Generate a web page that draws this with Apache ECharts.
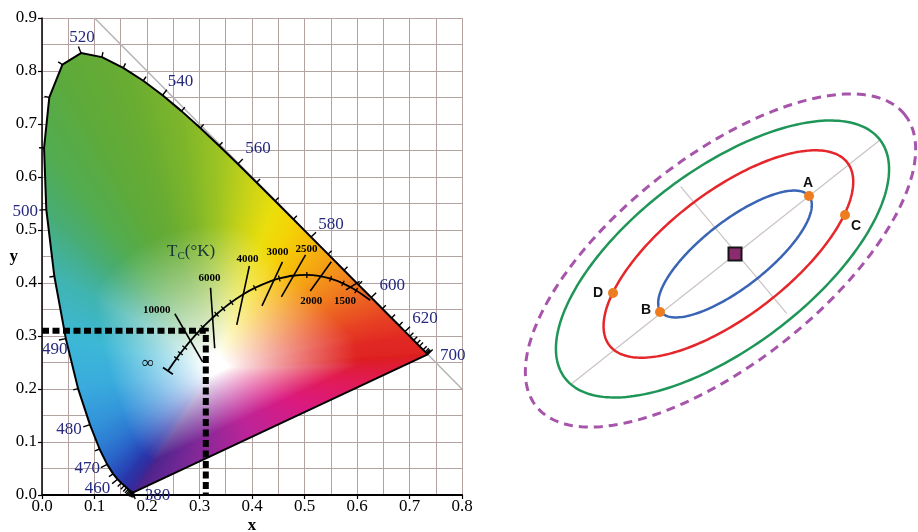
<!DOCTYPE html>
<html>
<head>
<meta charset="utf-8">
<title>CIE 1931 chromaticity diagram and colour-difference ellipses</title>
<script src="https://cdn.jsdelivr.net/npm/echarts@6.0.0/dist/echarts.min.js"></script>
<style>
  html, body { margin: 0; padding: 0; background: #ffffff; }
  #chart { width: 918px; height: 532px; }
</style>
</head>
<body>
<div id="chart"></div>
<script>
// ---------------- CIE 1931 2-degree spectral locus ----------------
const wavelengths = [380, 390, 400, 410, 420, 425, 430, 435, 440, 445, 450, 455, 460, 465, 470, 475, 480, 485, 490, 495,
  500, 505, 510, 515, 520, 525, 530, 535, 540, 545, 550, 555, 560, 565, 570, 575, 580, 585, 590, 595,
  600, 605, 610, 615, 620, 625, 630, 635, 640, 650, 660, 670, 680, 700];
const locusX = [0.1741, 0.1738, 0.1733, 0.1726, 0.1714, 0.1703, 0.1689, 0.1669, 0.1644, 0.1611, 0.1566, 0.1510, 0.1440, 0.1355, 0.1241, 0.1096, 0.0913, 0.0687, 0.0454, 0.0235,
  0.0082, 0.0039, 0.0139, 0.0389, 0.0743, 0.1142, 0.1547, 0.1929, 0.2296, 0.2658, 0.3016, 0.3373, 0.3731, 0.4087, 0.4441, 0.4788, 0.5125, 0.5448, 0.5752, 0.6029,
  0.6270, 0.6482, 0.6658, 0.6801, 0.6915, 0.7006, 0.7079, 0.7140, 0.7190, 0.7260, 0.7300, 0.7320, 0.7334, 0.7347];
const locusY = [0.0050, 0.0049, 0.0048, 0.0048, 0.0051, 0.0058, 0.0069, 0.0086, 0.0109, 0.0138, 0.0177, 0.0227, 0.0297, 0.0399, 0.0578, 0.0868, 0.1327, 0.2007, 0.2950, 0.4127,
  0.5384, 0.6548, 0.7502, 0.8120, 0.8338, 0.8262, 0.8059, 0.7816, 0.7543, 0.7243, 0.6923, 0.6589, 0.6245, 0.5896, 0.5547, 0.5202, 0.4866, 0.4544, 0.4242, 0.3965,
  0.3725, 0.3514, 0.3340, 0.3197, 0.3083, 0.2993, 0.2920, 0.2859, 0.2809, 0.2740, 0.2700, 0.2680, 0.2666, 0.2653];
const labeledWavelengths = [380, 460, 470, 480, 490, 500, 520, 540, 560, 580, 600, 620, 700];

// ---------------- Planckian (black-body) locus ----------------
const planckTemps = [1200, 1400, 1600, 1800, 2000, 2200, 2500, 2800, 3000, 3500, 4000, 4500, 5000, 5500, 6000, 7000, 8000, 10000, 12000, 15000, 20000, 30000, 50000, Infinity];
const planckX = [0.6251, 0.5985, 0.5732, 0.5496, 0.5267, 0.5045, 0.4770, 0.4520, 0.4369, 0.4053, 0.3805, 0.3608, 0.3451, 0.3325, 0.3221, 0.3064, 0.2952, 0.2807, 0.2719, 0.2637, 0.2565, 0.2501, 0.2452, 0.2399];
const planckY = [0.3674, 0.3858, 0.3993, 0.4081, 0.4133, 0.4152, 0.4137, 0.4086, 0.4041, 0.3907, 0.3768, 0.3636, 0.3516, 0.3411, 0.3318, 0.3166, 0.3048, 0.2884, 0.2779, 0.2674, 0.2577, 0.2489, 0.2419, 0.2342];
const planckTicked = [1400, 1600, 1800, 2200, 2800, 3500, 4500, 5000, 5500, 7000, 8000, 12000, 15000, 20000];

// isotemperature lines (two end points each)
const isoLabels = ['10000', '6000', '4000', '3000', '2500', '2000', '1500'];
const isoX1 = [0.253, 0.321, 0.395, 0.458, 0.502, 0.551, 0.605];
const isoY1 = [0.342, 0.391, 0.432, 0.440, 0.453, 0.440, 0.403];
const isoX2 = [0.306, 0.329, 0.371, 0.419, 0.456, 0.511, 0.579];
const isoY2 = [0.251, 0.277, 0.321, 0.357, 0.374, 0.385, 0.387];

// dashed guides to the marked chromaticity point
const guideX = [0, 0.312, 0.312];
const guideY = [0.31, 0.31, 0];

// x + y = 1 line
const diagX = [0.1, 0.8];
const diagY = [0.9, 0.2];

// ---------------- colour-difference ellipses (right panel) ----------------
const ellipseNames = ['inner', 'middle', 'outer', 'limit'];
const ellipseCx = [0, -0.66, -1.25, -1.45];
const ellipseCy = [0, 0, -0.5, -0.65];
const ellipseA = [9.4, 15.0, 19.75, 23.5];
const ellipseB = [3.3, 6.2, 8.9, 10.3];
const ellipseAngle = [38, 37.5, 37, 38.3];

const pointNames = ['A', 'B', 'C', 'D'];
const pointX = [7.4, -7.5, 11.0, -12.2];
const pointY = [5.8, -5.8, 3.9, -3.9];
const centreX = [0];
const centreY = [0];

const axisNames = ['major', 'minor'];
const axisX1 = [-16.5, -5.43];
const axisY1 = [-13.1, 6.73];
const axisX2 = [14.5, 5.17];
const axisY2 = [11.4, -5.93];

// ---------------- styling ----------------
const SERIF = '"Liberation Serif", "DejaVu Serif", serif';
const SANS = '"Liberation Sans", Arial, sans-serif';
const GRID_COLOUR = '#b3a3a0';
const WL_COLOUR = '#26297e';
const WHITE = [0.33, 0.24];

// colour of the diagram's rim, by wavelength
const spectrumStops = [
  [380, 72, 36, 140], [440, 52, 44, 158], [455, 40, 55, 170], [465, 40, 78, 188], [472, 42, 106, 204],
  [478, 48, 138, 216], [484, 56, 168, 222], [490, 60, 184, 214], [495, 64, 180, 176], [500, 72, 172, 115],
  [505, 82, 172, 80], [515, 94, 170, 58], [530, 104, 172, 50], [545, 126, 182, 42], [555, 156, 196, 34],
  [563, 198, 210, 24], [570, 234, 222, 12], [576, 246, 210, 5], [582, 246, 180, 12], [590, 242, 140, 28],
  [600, 236, 95, 34], [610, 230, 62, 35], [625, 225, 40, 35], [700, 220, 30, 30]
];
// colour along the line of purples, from 700 nm (0) to 380 nm (1)
const purpleStops = [[0, 220, 30, 30], [0.2, 226, 26, 84], [0.4, 218, 26, 128], [0.6, 188, 36, 152], [0.8, 128, 40, 152], [1, 72, 36, 140]];

const isoLabelOffset = [[-18, -4], [-1, -10], [-2, -7], [-5, -10], [1, -6], [1, 10], [-1, 11]];
const wlLabelOffset = {
  380: [24, 3], 460: [-20, 9], 470: [-20, 4], 480: [-21, 5], 490: [-11, 11], 500: [-21, 2],
  520: [1, -16], 540: [18, -14], 560: [20, -15], 580: [20, -13], 600: [21, -12], 620: [20, -13], 700: [25, 1]
};
const ellipseStyle = [
  { stroke: '#3a64b4', lineWidth: 2.5 },
  { stroke: '#e5262b', lineWidth: 2.5 },
  { stroke: '#1f9658', lineWidth: 2.5 },
  { stroke: '#a655aa', lineWidth: 3, lineDash: [9, 6] }
];
const pointLabelOffset = [[-1, -13], [-14, -2], [11, 11], [-15, 0]];

function stopColour(stops, v) {
  if (v <= stops[0][0]) return stops[0].slice(1);
  for (let k = 0; k < stops.length - 1; k++) {
    const a = stops[k], b = stops[k + 1];
    if (v <= b[0]) {
      const f = (v - a[0]) / (b[0] - a[0]);
      return [a[1] + (b[1] - a[1]) * f, a[2] + (b[2] - a[2]) * f, a[3] + (b[3] - a[3]) * f];
    }
  }
  return stops[stops.length - 1].slice(1);
}

// closed rim of the gamut: spectral locus then the line of purples
const rim = [];
wavelengths.forEach((wl, i) => rim.push({ x: locusX[i], y: locusY[i], c: stopColour(spectrumStops, wl) }));
(function () {
  const last = rim[rim.length - 1], first = rim[0];
  [0.2, 0.4, 0.6, 0.8, 1].forEach(f => rim.push({
    x: last.x + (first.x - last.x) * f,
    y: last.y + (first.y - last.y) * f,
    c: stopColour(purpleStops, f)
  }));
})();

function chromaColour(x, y) {
  const dx = x - WHITE[0], dy = y - WHITE[1];
  const dist = Math.hypot(dx, dy);
  if (dist < 1e-7) return [255, 255, 255];
  for (let k = 0; k < rim.length - 1; k++) {
    const P = rim[k], Q = rim[k + 1];
    const ex = Q.x - P.x, ey = Q.y - P.y;
    const D = dx * ey - dy * ex;
    if (Math.abs(D) < 1e-14) continue;
    const wx = P.x - WHITE[0], wy = P.y - WHITE[1];
    const s = (wx * ey - ex * wy) / D;
    const u = (dy * wx - dx * wy) / D;
    if (s > 0 && u >= -1e-9 && u <= 1 + 1e-9) {
      const c = [P.c[0] + (Q.c[0] - P.c[0]) * u, P.c[1] + (Q.c[1] - P.c[1]) * u, P.c[2] + (Q.c[2] - P.c[2]) * u];
      const t = Math.max(1 / s, dist / 0.36);
      let f = Math.min(1, Math.max(0, (t - 0.07) / 0.68));
      f = Math.pow(f, 0.85);
      return [255 + (c[0] - 255) * f, 255 + (c[1] - 255) * f, 255 + (c[2] - 255) * f];
    }
  }
  return [255, 255, 255];
}

function renderGamutFill(params, api) {
  const pts = locusX.map((x, i) => api.coord([x, locusY[i]]));
  const o = api.coord([0, 0]);
  const e = api.coord([1, 1]);
  const kx = e[0] - o[0], ky = e[1] - o[1];
  let x0 = Infinity, y0 = Infinity, x1 = -Infinity, y1 = -Infinity;
  pts.forEach(p => { x0 = Math.min(x0, p[0]); y0 = Math.min(y0, p[1]); x1 = Math.max(x1, p[0]); y1 = Math.max(y1, p[1]); });
  x0 = Math.max(0, Math.floor(x0) - 2); y0 = Math.max(0, Math.floor(y0) - 2);
  x1 = Math.ceil(x1) + 2; y1 = Math.ceil(y1) + 2;
  const w = x1 - x0, h = y1 - y0;
  const cv = document.createElement('canvas');
  cv.width = x1; cv.height = y1;
  const ctx = cv.getContext('2d');
  const img = ctx.createImageData(w, h);
  for (let j = 0; j < h; j++) {
    for (let i = 0; i < w; i++) {
      const cx = (x0 + i + 0.5 - o[0]) / kx;
      const cy = (y0 + j + 0.5 - o[1]) / ky;
      const c = chromaColour(cx, cy);
      const k = (j * w + i) * 4;
      img.data[k] = c[0]; img.data[k + 1] = c[1]; img.data[k + 2] = c[2]; img.data[k + 3] = 255;
    }
  }
  ctx.putImageData(img, x0, y0);
  return { type: 'polygon', silent: true, shape: { points: pts }, style: { fill: { image: cv, repeat: 'no-repeat' }, stroke: null } };
}

function outwardTick(api, xs, ys, i, len, centred) {
  const n = xs.length;
  const p = api.coord([xs[i], ys[i]]);
  const ia = Math.max(0, i - 2), ib = Math.min(n - 1, i + 2);
  const a = api.coord([xs[ia], ys[ia]]);
  const b = api.coord([xs[ib], ys[ib]]);
  let tx = b[0] - a[0], ty = b[1] - a[1];
  const L = Math.hypot(tx, ty) || 1; tx /= L; ty /= L;
  let nx = ty, ny = -tx;
  const c = api.coord(WHITE);
  if ((p[0] - c[0]) * nx + (p[1] - c[1]) * ny < 0) { nx = -nx; ny = -ny; }
  const s0 = centred ? -len / 2 : 0, s1 = centred ? len / 2 : len;
  return { x1: p[0] + nx * s0, y1: p[1] + ny * s0, x2: p[0] + nx * s1, y2: p[1] + ny * s1 };
}

function renderEllipse(params, api) {
  const i = params.dataIndex;
  const cx = api.value(0), cy = api.value(1), a = api.value(2), b = api.value(3);
  const ang = api.value(4) * Math.PI / 180;
  const pts = [];
  for (let k = 0; k < 240; k++) {
    const th = k / 240 * Math.PI * 2;
    const u = a * Math.cos(th), v = b * Math.sin(th);
    pts.push(api.coord([cx + u * Math.cos(ang) - v * Math.sin(ang), cy + u * Math.sin(ang) + v * Math.cos(ang)]));
  }
  const st = ellipseStyle[i];
  return { type: 'polygon', shape: { points: pts },
    style: { fill: 'none', stroke: st.stroke, lineWidth: st.lineWidth, lineDash: st.lineDash || null, lineCap: 'butt' } };
}

function segmentRender(colour, width) {
  return function (params, api) {
    const p = api.coord([api.value(0), api.value(1)]);
    const q = api.coord([api.value(2), api.value(3)]);
    return { type: 'line', shape: { x1: p[0], y1: p[1], x2: q[0], y2: q[1] }, style: { stroke: colour, lineWidth: width } };
  };
}

const plainLabel = { textBorderWidth: 0, textShadowBlur: 0, opacity: 1 };
const solid = { opacity: 1 };

const chart = echarts.init(document.getElementById('chart'), null, { renderer: 'canvas', devicePixelRatio: 1 });

const locusLine = locusX.map((x, i) => [x, locusY[i]]);
locusLine.push([locusX[0], locusY[0]]);

const option = {
  animation: false,
  backgroundColor: '#ffffff',
  grid: [
    { left: 42, top: 18, width: 420, height: 477, containLabel: false, outerBoundsMode: 'none' },
    { left: 500, top: 0, width: 418, height: 532, containLabel: false, outerBoundsMode: 'none' }
  ],
  xAxis: [
    {
      type: 'value', gridIndex: 0, min: 0, max: 0.8, interval: 0.1,
      name: 'x', nameLocation: 'middle', nameGap: 22, nameMoveOverlap: false,
      nameTextStyle: { fontFamily: SERIF, fontSize: 17, fontWeight: 'bold', color: '#000' },
      axisLine: { show: true, onZero: false, lineStyle: { color: '#000', width: 2 } },
      axisTick: { show: true, length: 4, lineStyle: { color: '#000', width: 1.2 } },
      axisLabel: { formatter: v => v.toFixed(1), fontFamily: SERIF, fontSize: 17, color: '#000', margin: 3 },
      splitLine: { show: true, lineStyle: { color: GRID_COLOUR, width: 1 } },
      minorTick: { show: false, splitNumber: 2 },
      minorSplitLine: { show: true, lineStyle: { color: GRID_COLOUR, width: 1 } }
    },
    { type: 'value', gridIndex: 1, min: -23.5, max: 18.3, show: false }
  ],
  yAxis: [
    {
      type: 'value', gridIndex: 0, min: 0, max: 0.9, interval: 0.1,
      name: 'y', nameLocation: 'middle', nameGap: 24, nameRotate: 0, nameMoveOverlap: false,
      nameTextStyle: { fontFamily: SERIF, fontSize: 17, fontWeight: 'bold', color: '#000' },
      axisLine: { show: true, onZero: false, lineStyle: { color: '#000', width: 1.5 } },
      axisTick: { show: true, length: 4, lineStyle: { color: '#000', width: 1.2 } },
      axisLabel: { formatter: v => v.toFixed(1), fontFamily: SERIF, fontSize: 17, color: '#000', margin: 5 },
      splitLine: { show: true, lineStyle: { color: GRID_COLOUR, width: 1 } },
      minorTick: { show: false, splitNumber: 2 },
      minorSplitLine: { show: true, lineStyle: { color: GRID_COLOUR, width: 1 } }
    },
    { type: 'value', gridIndex: 1, min: -27.8, max: 25.4, show: false }
  ],
  graphic: [
    {
      type: 'text', left: 167, top: 243, z: 50,
      style: {
        text: '{t|T}{c|C}{t|(°K)}',
        rich: {
          t: { fontFamily: SERIF, fontSize: 17, fill: '#173535' },
          c: { fontFamily: SERIF, fontSize: 11, fill: '#173535', padding: [9, 0, 0, 0] }
        }
      }
    }
  ],
  series: [
    // x + y = 1 reference line
    {
      type: 'line', xAxisIndex: 0, yAxisIndex: 0, z: 2, silent: true, symbol: 'none',
      data: diagX.map((x, i) => [x, diagY[i]]),
      lineStyle: { color: '#b4b4b4', width: 1.5 }
    },
    // coloured gamut
    {
      type: 'custom', xAxisIndex: 0, yAxisIndex: 0, z: 3, silent: true,
      data: [[0, 0]], renderItem: renderGamutFill
    },
    // spectral locus and line of purples
    {
      type: 'line', xAxisIndex: 0, yAxisIndex: 0, z: 6, silent: true, symbol: 'none',
      data: locusLine, lineStyle: { color: '#000', width: 2 }
    },
    // wavelength ticks
    {
      type: 'custom', xAxisIndex: 0, yAxisIndex: 0, z: 6, silent: true, clip: false,
      data: locusX.map((x, i) => [x, locusY[i], i]),
      renderItem: function (params, api) {
        const i = api.value(2);
        const len = labeledWavelengths.indexOf(wavelengths[i]) >= 0 ? 7 : 5;
        return { type: 'line', shape: outwardTick(api, locusX, locusY, i, len, false), style: { stroke: '#000', lineWidth: 1.4 } };
      }
    },
    // wavelength labels
    {
      type: 'scatter', xAxisIndex: 0, yAxisIndex: 0, z: 7, silent: true, clip: false, symbolSize: 0,
      itemStyle: solid,
      data: labeledWavelengths.map(wl => {
        const i = wavelengths.indexOf(wl);
        return {
          name: String(wl), value: [locusX[i], locusY[i]],
          label: Object.assign({ show: true, position: 'inside', offset: wlLabelOffset[wl], formatter: '{b}',
            fontFamily: SERIF, fontSize: 17, color: WL_COLOUR }, plainLabel)
        };
      })
    },
    // Planckian locus
    {
      type: 'line', xAxisIndex: 0, yAxisIndex: 0, z: 8, silent: true, symbol: 'none', smooth: 0.3,
      data: planckX.map((x, i) => [x, planckY[i]]), lineStyle: { color: '#000', width: 1.8 }
    },
    // temperature ticks along the Planckian locus
    {
      type: 'custom', xAxisIndex: 0, yAxisIndex: 0, z: 8, silent: true,
      data: planckTicked.map(T => { const i = planckTemps.indexOf(T); return [planckX[i], planckY[i], i]; }),
      renderItem: function (params, api) {
        return { type: 'line', shape: outwardTick(api, planckX, planckY, api.value(2), 6, true), style: { stroke: '#000', lineWidth: 1.3 } };
      }
    },
    // end bar at infinite temperature
    {
      type: 'custom', xAxisIndex: 0, yAxisIndex: 0, z: 8, silent: true,
      data: [[planckX[planckX.length - 1], planckY[planckY.length - 1], planckX.length - 1]],
      renderItem: function (params, api) {
        const i = api.value(2);
        const p = api.coord([planckX[i], planckY[i]]);
        const q = api.coord([planckX[i - 2], planckY[i - 2]]);
        let tx = q[0] - p[0], ty = q[1] - p[1];
        const L = Math.hypot(tx, ty) || 1; tx /= L; ty /= L;
        return { type: 'line', shape: { x1: p[0] - ty * 6, y1: p[1] + tx * 6, x2: p[0] + ty * 6, y2: p[1] - tx * 6 },
          style: { stroke: '#000', lineWidth: 1.8 } };
      }
    },
    // isotemperature lines
    {
      type: 'custom', xAxisIndex: 0, yAxisIndex: 0, z: 8, silent: true,
      data: isoLabels.map((t, i) => [isoX1[i], isoY1[i], isoX2[i], isoY2[i]]),
      renderItem: segmentRender('#000', 1.6)
    },
    // isotemperature labels and the infinity mark
    {
      type: 'scatter', xAxisIndex: 0, yAxisIndex: 0, z: 9, silent: true, clip: false, symbolSize: 0,
      itemStyle: solid,
      data: isoLabels.map((t, i) => ({
        name: t,
        value: i < 5 ? [isoX1[i], isoY1[i]] : [isoX2[i], isoY2[i]],
        label: Object.assign({ show: true, position: 'inside', offset: isoLabelOffset[i], formatter: '{b}',
          fontFamily: SERIF, fontSize: 11, color: '#000', fontWeight: 'bold' }, plainLabel)
      })).concat([{
        name: '∞', value: [planckX[planckX.length - 1], planckY[planckY.length - 1]],
        label: Object.assign({ show: true, position: 'inside', offset: [-20, -7], formatter: '{b}',
          fontFamily: SERIF, fontSize: 17, color: '#000' }, plainLabel)
      }])
    },
    // dashed guides
    {
      type: 'line', xAxisIndex: 0, yAxisIndex: 0, z: 10, silent: true, symbol: 'none',
      data: guideX.map((x, i) => [x, guideY[i]]),
      lineStyle: { color: '#000', width: 6, type: [7, 3.5], cap: 'butt', join: 'miter' }
    },

    // ---------- right panel ----------
    {
      type: 'custom', xAxisIndex: 1, yAxisIndex: 1, z: 2, silent: true,
      data: axisNames.map((n, i) => [axisX1[i], axisY1[i], axisX2[i], axisY2[i]]),
      renderItem: segmentRender('#cbc3c3', 1.2)
    },
    {
      type: 'custom', xAxisIndex: 1, yAxisIndex: 1, z: 4, silent: true,
      data: ellipseNames.map((n, i) => [ellipseCx[i], ellipseCy[i], ellipseA[i], ellipseB[i], ellipseAngle[i]]),
      renderItem: renderEllipse
    },
    {
      type: 'scatter', xAxisIndex: 1, yAxisIndex: 1, z: 6, silent: true,
      symbol: 'rect', symbolSize: 13,
      itemStyle: { color: '#8b2c6f', borderColor: '#151515', borderWidth: 2, opacity: 1 },
      data: centreX.map((x, i) => [x, centreY[i]])
    },
    {
      type: 'scatter', xAxisIndex: 1, yAxisIndex: 1, z: 6, silent: true,
      symbol: 'circle', symbolSize: 10, itemStyle: { color: '#ee7d22', opacity: 1 },
      data: pointNames.map((n, i) => ({
        name: n, value: [pointX[i], pointY[i]],
        label: Object.assign({ show: true, position: 'inside', offset: pointLabelOffset[i], formatter: '{b}',
          fontFamily: SANS, fontSize: 14, fontWeight: 'bold', color: '#111' }, plainLabel)
      }))
    }
  ]
};

chart.setOption(option);
</script>
</body>
</html>
